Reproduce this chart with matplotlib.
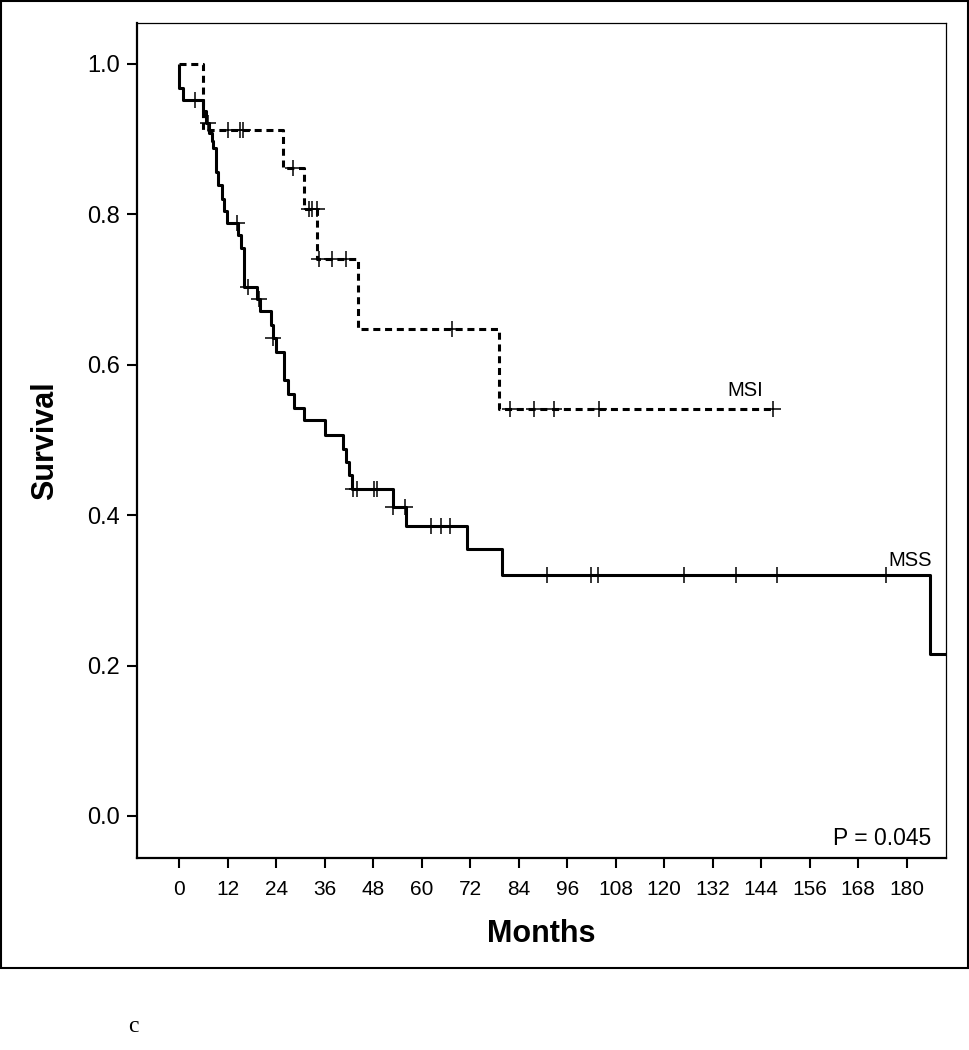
import numpy as np
import matplotlib.pyplot as plt
from matplotlib.patches import Rectangle
from matplotlib import font_manager

# fuentes: Arial estrecha si existe
nombres = {f.name for f in font_manager.fontManager.ttflist}
narrow = 'Liberation Sans Narrow' if 'Liberation Sans Narrow' in nombres else 'Liberation Sans'
plt.rcParams['font.family'] = ['Liberation Sans', 'DejaVu Sans']

# MSS (linea continua): tiempos de evento y supervivencia despues de cada caida
mss_t = [0, 1.1, 6.0, 6.7, 7.5, 8.1, 8.5, 9.1, 9.7, 10.6, 11.1, 11.9, 14.6, 15.2,
         16.0, 19.4, 20.0, 22.7, 23.2, 23.9, 26.0, 27.0, 28.4, 31.0, 36.1, 40.6,
         41.3, 42.1, 42.7, 53.0, 56.1, 71.2, 79.9, 185.8]
mss_s = [0.968, 0.952, 0.937, 0.921, 0.908, 0.897, 0.888, 0.857, 0.839, 0.821,
         0.804, 0.788, 0.773, 0.755, 0.704, 0.688, 0.671, 0.653, 0.636, 0.617,
         0.580, 0.561, 0.543, 0.526, 0.507, 0.488, 0.470, 0.453, 0.435, 0.411,
         0.386, 0.355, 0.321, 0.215]
mss_fin = 190
mss_cens = [4.0, 7.1, 14.3, 17.1, 19.7, 23.3, 43.1, 43.9, 48.1, 48.9, 53.0, 56.0,
            62.2, 64.7, 66.9, 90.9, 101.9, 103.7, 124.9, 137.8, 147.8, 174.8]

# MSI (linea discontinua)
msi_t = [6.0, 25.8, 30.9, 34.2, 44.2, 79.2]
msi_s = [0.912, 0.861, 0.807, 0.740, 0.648, 0.541]
msi_fin = 147.0
msi_cens = [12.2, 15.0, 15.8, 28.3, 32.2, 32.8, 34.0, 34.7, 37.9, 41.3, 67.4,
            81.9, 87.8, 92.8, 103.9, 147.0]

xticks = np.arange(0, 181, 12)
yticks = [0.0, 0.2, 0.4, 0.6, 0.8, 1.0]


def curva(t, s, fin):
    x = np.r_[0, t, fin]
    y = np.r_[1.0, s, s[-1]]
    return x, y


def en_curva(t, s, c):
    # supervivencia en los tiempos censurados
    idx = np.searchsorted(t, c, side='right') - 1
    s = np.asarray(s)
    return np.where(idx >= 0, s[np.clip(idx, 0, None)], 1.0)


fig = plt.figure(figsize=(9.7, 10.5), dpi=100)
fig.patches.append(Rectangle((0.001, 1 - 968 / 1050), 0.997, 968 / 1050 - 0.001,
                             transform=fig.transFigure, fill=False,
                             edgecolor='black', linewidth=1.5))
ax = fig.add_axes([137 / 970, 1 - 858 / 1050, 809 / 970, 835 / 1050])

x, y = curva(mss_t, mss_s, mss_fin)
ax.step(x, y, where='post', color='black', linewidth=2.2, solid_capstyle='butt')
x, y = curva(msi_t, msi_s, msi_fin)
ax.step(x, y, where='post', color='black', linewidth=2.2,
        linestyle=(0, (2.3, 1.55)), dash_capstyle='butt')

ax.plot(mss_cens, en_curva(mss_t, mss_s, mss_cens), '+', color='black',
        markersize=11, markeredgewidth=1.1)
ax.plot(msi_cens, en_curva(msi_t, msi_s, msi_cens), '+', color='black',
        markersize=11, markeredgewidth=1.1)

ax.text(144.5, 0.553, 'MSI', fontsize=14.5, ha='right', va='bottom')
ax.text(175.5, 0.327, 'MSS', fontsize=14.5, ha='left', va='bottom')
ax.text(186, -0.03, 'P = 0.045', fontsize=16.5, ha='right', va='center')

ax.set_xlim(-10.4, 189.7)
ax.set_ylim(-0.056, 1.0545)
ax.set_xticks(xticks)
ax.set_xticklabels([str(v) for v in xticks], family=narrow, fontsize=15)
ax.set_yticks(yticks)
ax.set_yticklabels([f'{v:.1f}' for v in yticks], fontsize=17)
ax.tick_params(direction='out', length=7, width=1.5, color='black')
ax.tick_params(axis='x', pad=9)
ax.tick_params(axis='y', pad=5)

for lado in ['left', 'bottom']:
    ax.spines[lado].set_linewidth(1.6)
for lado in ['top', 'right']:
    ax.spines[lado].set_linewidth(0.9)

ax.set_xlabel('Months', family=narrow, fontsize=22, fontweight='bold', labelpad=14)
ax.set_ylabel('Survival', family=narrow, fontsize=22, fontweight='bold', labelpad=20)

fig.text(128 / 970, 1 - 1027 / 1050, 'c', family='Liberation Serif', fontsize=17,
         ha='left', va='center')

fig.savefig('out.png', dpi=100)
